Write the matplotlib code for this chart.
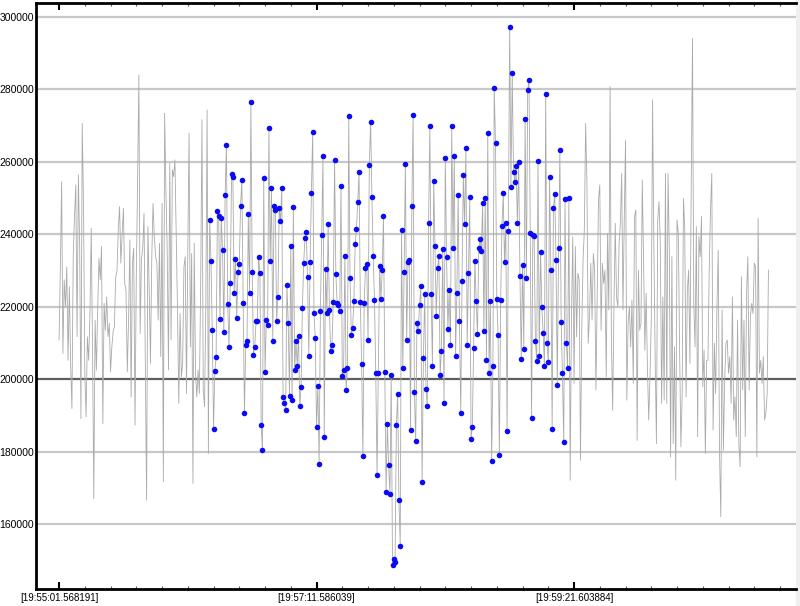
import numpy as np
import matplotlib
matplotlib.use("Agg")
import matplotlib.pyplot as plt
from matplotlib.patches import Rectangle
from matplotlib.ticker import MultipleLocator, FixedLocator

plt.rcParams["font.family"] = ["Liberation Sans", "DejaVu Sans"]

# samples before the highlighted window (gray line only)
lead_vals = [
    210800, 230100, 254500, 207100, 227400, 220000, 231000, 205200, 225500, 204300,
    191900, 233800, 244900, 253600, 211700, 256400, 237500, 189100, 270600, 248500,
    201600, 189600, 211700, 205200, 218100, 241600, 208900, 167000, 216300, 202500,
    219100, 233300, 227400, 236600, 187700, 220900, 213500, 222700, 211700, 215400,
    202000, 208900, 213100, 214500, 228300, 229700, 241200, 247600, 232000, 240200,
    247200, 226400, 224600, 202000, 216300, 238400, 195100, 232000, 236100, 187300,
    228300, 254500, 284000, 212600, 232900, 236100, 245800, 204300, 166600, 242100,
    225500, 204300, 232900, 248500, 239300, 233800, 232000, 216300, 237500, 206200,
    248500, 171600, 273400, 252200, 235600, 202500, 259600, 210800, 257800, 255900,
    260500, 239300, 219100, 193300, 218100, 200600, 204300, 231000, 233800, 196000,
    235600, 267900, 208900, 234700, 171200, 237500, 201600, 195100, 202500, 196000,
    226400, 271600, 197000, 192400, 220000, 274300, 179500,
]

# highlighted window (drawn with blue points)
window_vals = [
    244000, 232700, 213500, 186200, 202300, 206000, 246500, 244900, 216700, 244600,
    235500, 212900, 250900, 264500, 220700, 208800, 226500, 256500, 255700, 223900,
    233200, 217000, 229700, 231800, 247900, 254900, 221100, 190700, 209400, 210400,
    245700, 223900, 276400, 229500, 206700, 208800, 216000, 216000, 233800, 229200,
    187400, 180500, 255400, 202000, 216300, 214900, 269200, 232700, 252700, 210400,
    247900, 246600, 216000, 222700, 247100, 243600, 252700, 195100, 193300, 191600,
    226000, 215500, 195400, 236700, 194100, 247400, 202500, 210400, 203700, 212000,
    192500, 197900, 219500, 232000, 238900, 240600, 228300, 206500, 232300, 251500,
    268200, 218300, 211400, 186700, 198200, 176700, 218800, 239700, 261500, 184100,
    230400, 218200, 242700, 219100, 207700, 209300, 221400, 260400, 229000, 220900,
    220400, 218800, 253400, 200900, 202500, 234100, 197000, 203000, 272700, 227800,
    212200, 214100, 221600, 237400, 241500, 248800, 257100, 221400, 204100, 178800,
    221100, 230800, 231800, 210900, 259200, 271100, 250400, 234100, 221800, 201600,
    173600, 201600, 231100, 222100, 230000, 245100, 202000, 168700, 187700, 176200,
    168400, 201100, 148800, 150400, 149500, 187200, 195900, 166700, 153900, 241100,
    203000, 229500, 259400, 210700, 232400, 232900, 186000, 247900, 272900, 196500,
    182800, 215600, 213300, 220400, 225700, 171700, 205800, 223400, 197400, 192500,
    243000, 269900, 223400, 203700, 254600, 236800, 217400, 230600, 234100, 201100,
    207800, 236000, 193300, 261000, 233800, 213900, 224600, 209300, 269900, 236100,
    261600, 206500, 223900, 250800, 216000, 190700, 227100, 256400, 242700, 263900,
    209400, 229200, 250200, 183600, 186900, 208600, 232500, 221600, 212400, 236100,
    238600, 235300, 248500, 213200, 249900, 205400, 268000, 201800, 221500, 177400,
    203700, 280300, 265300, 222200, 212300, 179000, 221900, 242300, 251300, 232200,
    243100, 185800, 240800, 297300, 253100, 284500, 257300, 254500, 258700, 243000,
    259900, 228500, 205600, 231600, 208400, 271700, 227900, 279700, 282700, 240400,
    189300, 239800, 239600, 210500, 204900, 260100, 206500, 235000, 219800, 212800,
    203700, 278700, 209900, 204700, 255700, 230100, 186300, 247300, 251000, 233000,
    198500, 236200, 263200, 215700, 201600, 182600, 249600, 209900, 203100, 249900,
]

# samples after the window (gray line only)
tail_vals = [
    172100, 217200, 239300, 198800, 236600, 211700, 229200, 227400, 177600, 213500,
    232900, 241200, 270600, 254500, 209900, 217200, 232000, 216300, 234700, 230100,
    197000, 223700, 249500, 253600, 213500, 232000, 226400, 230100, 200600, 240200,
    219100, 280800, 211700, 191400, 220000, 243000, 222700, 220000, 237500, 243000,
    256800, 219100, 243900, 266000, 194200, 215400, 220000, 208900, 221800, 198800,
    244900, 246700, 183100, 230100, 213500, 215400, 255000, 232900, 208000, 223700,
    203400, 188700, 200600, 216300, 277100, 236600, 206200, 182200, 243900, 249000,
    237500, 193300, 222700, 194200, 256800,
    193300, 256800, 235600, 178500, 233800, 182200, 208900, 172100, 243900, 240200,
    208000, 181300, 196000, 249900, 241200, 195100, 224600, 230100, 204300, 252200,
    294100, 220900, 208900, 242100, 184100, 239300, 233800, 244900, 197900, 208000,
    179500, 205200, 205200, 230100, 246700, 256800, 185900, 209900, 196000, 220000,
    235600, 179500, 162000, 219100, 180400, 199700, 209900, 210800, 201600, 206200,
    193300, 222700, 188700, 195100, 184100, 216300, 182200, 175800, 228300, 197000,
    216300, 184100, 223700, 233800, 197000, 217200, 220900, 218100, 232000, 231000,
    178500, 244400, 201600, 205200, 198800, 206200, 188700, 190500, 196000, 230100,
]

tick_idx = [0, 200, 400]
tick_labels = ["[19:55:01.568191]", "[19:57:11.586039]", "[19:59:21.603884]"]
y_ticks = [160000, 180000, 200000, 220000, 240000, 260000, 280000, 300000]
baseline = 200000

values = lead_vals + window_vals + tail_vals
x = np.arange(len(values))
w0 = len(lead_vals)
wx = x[w0:w0 + len(window_vals)]

fig = plt.figure(figsize=(8, 6.06), dpi=100)
fig.patch.set_facecolor("white")
ax = fig.add_axes([36 / 800, 17 / 606, 760 / 800, 586 / 606])
fig.add_artist(Rectangle((796 / 800, 0), 4 / 800, 1, transform=fig.transFigure,
                         color="#efefef", zorder=0))

ax.plot(x, values, color="#aaaaaa", linewidth=0.6, zorder=2)
ax.plot(wx, window_vals, "o", color="#0a0af5", markersize=4.0,
        markeredgewidth=0, zorder=3)

ax.set_xlim(-17.9, 572.4)
ax.set_ylim(142060, 303820)

ax.set_yticks(y_ticks)
ax.set_yticklabels([str(v) for v in y_ticks])
ax.yaxis.grid(True, color="#c8c8c8", linewidth=1.6)
ax.set_axisbelow(True)
for t in ax.yaxis.get_major_ticks():
    if t.get_loc() == baseline:
        t.gridline.set_color("#5e5e5e")
ax.tick_params(axis="y", length=0, pad=1.5, labelsize=7.5)

ax.xaxis.set_major_locator(FixedLocator(tick_idx))
ax.set_xticklabels(tick_labels)
ax.xaxis.set_minor_locator(MultipleLocator(20))
ax.tick_params(axis="x", which="major", direction="in", top=True, length=5,
               width=1.5, pad=3, labelsize=7)
ax.tick_params(axis="x", which="minor", direction="in", top=True, length=2.5,
               width=0.8, color="#555555")

for side in ["left", "bottom", "top"]:
    ax.spines[side].set_linewidth(2)
    ax.spines[side].set_color("black")
ax.spines["right"].set_visible(False)

plt.savefig("out.png", dpi=100)
plt.close()
